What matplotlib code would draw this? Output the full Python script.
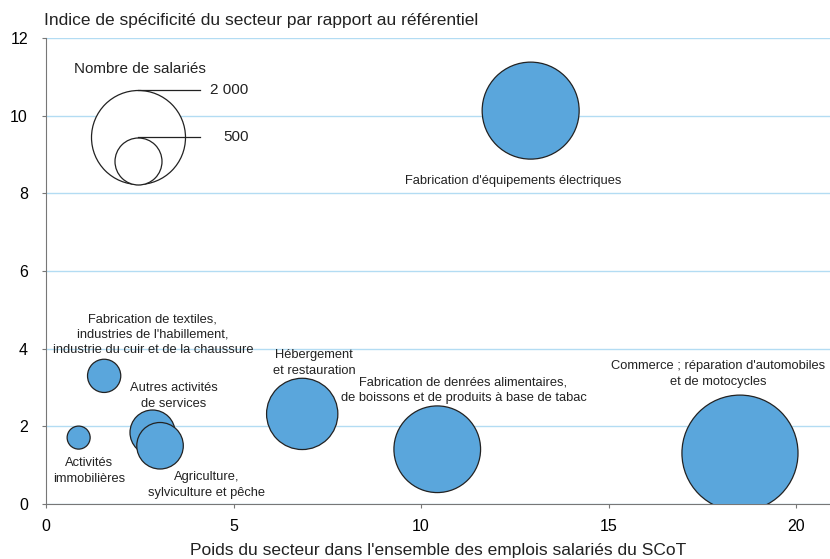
import matplotlib
matplotlib.use("Agg")
import matplotlib.pyplot as plt
import numpy as np

plt.rcParams["font.family"] = ["Liberation Sans Narrow", "Liberation Sans", "DejaVu Sans"]

# secteurs : poids dans l'emploi (%), indice de spécificité, nombre de salariés
secteurs = [
    "Fabrication d'équipements électriques",
    "Commerce ; réparation d'automobiles\net de motocycles",
    "Fabrication de denrées alimentaires,\nde boissons et de produits à base de tabac",
    "Hébergement\net restauration",
    "Autres activités\nde services",
    "Agriculture,\nsylviculture et pêche",
    "Fabrication de textiles,\nindustries de l'habillement,\nindustrie du cuir et de la chaussure",
    "Activités\nimmobilières",
]
poids = [12.92, 18.5, 10.43, 6.83, 2.84, 3.04, 1.55, 0.87]
indice = [10.13, 1.31, 1.41, 2.32, 1.84, 1.50, 3.30, 1.71]
salaries = [2130, 3050, 1700, 1150, 460, 490, 250, 120]

# positions des étiquettes (x, y) en unités des axes
label_x = [12.46, 17.92, 11.13, 7.14, 3.41, 4.29, 2.85, 1.15]
label_y = [8.32, 3.35, 2.94, 3.63, 2.78, 0.49, 4.36, 0.85]

legende_vals = [2000, 500]
legende_txt = ["2 000", "500"]

DPI = 100
K = 2.29  # points^2 par salarié
couleur = "#5aa6dc"

fig = plt.figure(figsize=(8.3, 5.59), dpi=DPI)
ax = fig.add_axes([46 / 830, 55 / 559, 1 - 46 / 830, (504 - 38) / 559])

ax.set_xlim(0, 20.9)
ax.set_ylim(0, 12)

ax.scatter(poids, indice, s=np.array(salaries) * K, color=couleur,
           edgecolors="#222222", linewidths=0.9, zorder=3)

for t, x, y in zip(secteurs, label_x, label_y):
    ax.text(x, y, t, ha="center", va="center", fontsize=9.3,
            linespacing=1.38, color="#222222", zorder=4)

# légende des tailles
px_per_y = 466 / 12.0
base_y = 8.24
lx = 2.46
for v, txt in zip(legende_vals, legende_txt):
    r_px = np.sqrt(v * K) / 2 * DPI / 72
    r_y = r_px / px_per_y
    ax.scatter([lx], [base_y + r_y], s=v * K, facecolors="white",
               edgecolors="#222222", linewidths=0.9, zorder=3)
    ax.plot([lx, 4.1], [base_y + 2 * r_y, base_y + 2 * r_y],
            color="#222222", lw=0.9, zorder=4)
    ax.text(5.4, base_y + 2 * r_y, txt, ha="right", va="center",
            fontsize=11, color="#222222")
ax.text(2.5, 11.19, "Nombre de salariés", ha="center", va="center",
        fontsize=11, color="#222222")

ax.set_yticks(range(0, 13, 2))
ax.set_xticks(range(0, 21, 5))
ax.grid(axis="y", color="#b3dcf3", lw=1.0)
ax.set_axisbelow(True)
for s in ["top", "right"]:
    ax.spines[s].set_visible(False)
for s in ["left", "bottom"]:
    ax.spines[s].set_color("#777777")
ax.tick_params(axis="y", length=3, pad=10, labelsize=11.5, color="#777777")
ax.tick_params(axis="x", length=3, pad=8, labelsize=11.5, color="#777777")

fig.text(44 / 830, 1 - 21 / 559, "Indice de spécificité du secteur par rapport au référentiel",
         ha="left", va="center", fontsize=12.5, color="#222222")
ax.set_xlabel("Poids du secteur dans l'ensemble des emplois salariés du SCoT",
              fontsize=12.5, color="#222222", labelpad=6)

fig.savefig("out.png", dpi=DPI)
